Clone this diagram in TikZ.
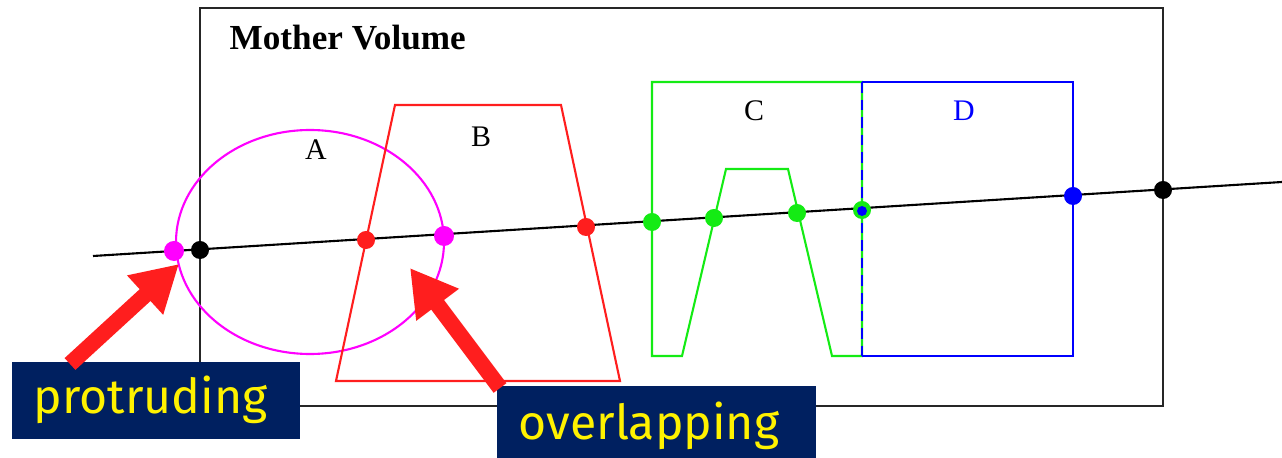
\documentclass[tikz,border=0pt]{standalone}
\usepackage{fontspec}
\setmainfont{Liberation Serif}
\newfontfamily\calloutfont{Fira Sans}
\usetikzlibrary{arrows.meta,positioning,calc}
\definecolor{navybox}{RGB}{0,32,96}
\definecolor{volgreen}{RGB}{20,235,20}
\definecolor{volred}{RGB}{255,30,30}
\definecolor{volmag}{RGB}{255,0,255}
\definecolor{volblue}{RGB}{0,0,255}

\begin{document}
\begin{tikzpicture}[x=0.01cm,y=-0.01cm,
  outline/.style={line width=0.6pt},
  dot/.style={circle,inner sep=0pt,minimum size=0.18cm},
  vlabel/.style={font=\fontsize{8.5}{10}\selectfont,inner sep=0pt},
  callout/.style={fill=navybox,text=yellow,font=\calloutfont\fontsize{13.7}{16}\selectfont,
                  minimum height=0.77cm,align=left,inner xsep=0.22cm,anchor=north west},
  pointer/.style={volred,line width=0.16cm,-{Triangle[length=0.46cm,width=0.5cm]}}
]
\useasboundingbox (0,0) rectangle (1282,458);

% Mother volume
\draw[outline,black!85] (200,8) rectangle (1163,406);
\node[vlabel,font=\fontsize{10}{12}\selectfont\bfseries,anchor=west] (mother) at (229,38) {Mother Volume};

% daughter volumes
\draw[outline,volmag] (310,242) ellipse [x radius=134, y radius=112];
\draw[outline,volred] (395,105) -- (561,105) -- (620,381) -- (336,381) -- cycle;
\draw[outline,volgreen] (652,82) -- (652,356) -- (682,356) -- (726,169) -- (788,169)
      -- (832,356) -- (862,356) -- (862,82) -- cycle;
\draw[outline,volblue] (862,82) -- (1073,82) -- (1073,356) -- (862,356);
\draw[outline,volblue,dash pattern=on 3pt off 2pt] (862,82) -- (862,356);

\node[vlabel] (lblA) at (316,150) {A};
\node[vlabel] (lblB) at (481,137) {B};
\node[vlabel] (lblC) at (754,111) {C};
\node[vlabel,text=volblue] (lblD) at (964,111) {D};

% the ray
\coordinate (rayS) at (93,256);
\coordinate (rayE) at (1282,182);
\draw[outline] (rayS) -- (rayE);

% intersection points
\node[dot,fill=volmag,minimum width=0.2cm,minimum height=0.13cm] (pA1) at (174,251) {};
\node[dot,fill=black]     (pM1) at (200,250) {};
\node[dot,fill=volred]    (pB1) at (366,240) {};
\node[dot,fill=volmag,minimum width=0.2cm,minimum height=0.14cm] (pA2) at (444,236) {};
\node[dot,fill=volred]    (pB2) at (586,227) {};
\node[dot,fill=volgreen]  (pC1) at (652,222) {};
\node[dot,fill=volgreen]  (pC2) at (714,218) {};
\node[dot,fill=volgreen]  (pC3) at (797,213) {};
\node[dot,fill=volgreen]  (pC4) at (862,210) {};
\node[dot,fill=volblue,minimum size=0.1cm] (pD1) at (862,211) {};
\node[dot,fill=volblue]   (pD2) at (1073,196) {};
\node[dot,fill=black]     (pM2) at (1163,190) {};

% callouts
\node[callout,text width=2.44cm] (protr) at (11,361) {protruding};
\node[callout,text width=2.75cm,minimum height=0.8cm] (overl) at (496,385) {overlapping};

\coordinate (tipP) at (179,264);
\coordinate (tipO) at (410,268);
\draw[pointer] (70,364) -- (tipP);
\draw[pointer] (500,388) -- (tipO);
\end{tikzpicture}
\end{document}
